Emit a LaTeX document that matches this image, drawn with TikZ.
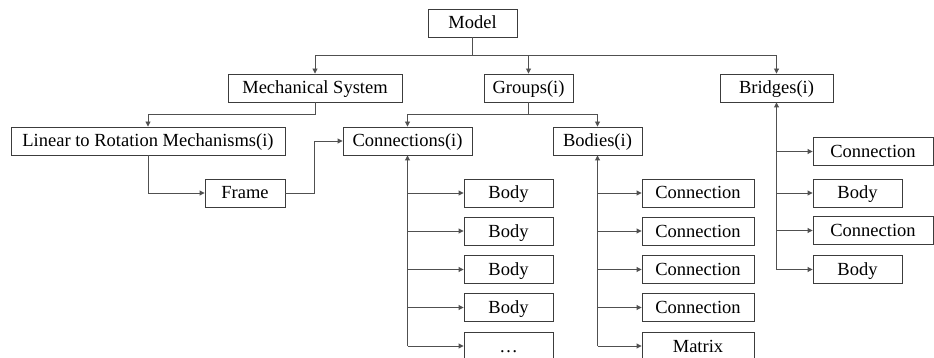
\documentclass[tikz,border=0pt]{standalone}
\usepackage{fontspec}
\setmainfont{Liberation Serif}
\usetikzlibrary{arrows.meta}
\definecolor{boxline}{HTML}{3C3C3C}
\definecolor{conline}{HTML}{505050}
\tikzset{
  box/.style={draw=boxline, line width=0.9pt, minimum height=28pt, inner sep=0pt,
    text height=13pt, text depth=1pt, font=\fontsize{18.5}{20}\selectfont},
  arr/.style={draw=conline, line width=0.9pt, -{Triangle[length=5pt,width=5pt]}},
  ln/.style={draw=conline, line width=0.9pt}
}
\begin{document}
\begin{tikzpicture}[x=1pt,y=-1pt]
\useasboundingbox (0,0) rectangle (934,358);
% top levels
\node[box, minimum width=89pt]  (model)   at (472.5,23)  {Model};
\node[box, minimum width=174pt] (mech)    at (315,88)    {Mechanical System};
\node[box, minimum width=89pt]  (groups)  at (528.5,88)  {Groups(i)};
\node[box, minimum width=113pt] (bridges) at (776.5,88)  {Bridges(i)};
\node[box, minimum width=274pt] (linear)  at (148,141)   {Linear to Rotation Mechanisms(i)};
\node[box, minimum width=80pt]  (frame)   at (245,193)   {Frame};
\node[box, minimum width=129pt] (conns)   at (407.5,141) {Connections(i)};
\node[box, minimum width=89pt]  (bodies)  at (597.5,141) {Bodies(i)};
% children of Connections(i)
\node[box, minimum width=89pt] (cb1) at (508.5,193)   {Body};
\node[box, minimum width=89pt] (cb2) at (508.5,231)   {Body};
\node[box, minimum width=89pt] (cb3) at (508.5,269.5) {Body};
\node[box, minimum width=89pt] (cb4) at (508.5,307.5) {Body};
\node[box, minimum width=89pt] (cb5) at (508.5,346)   {…};
% children of Bodies(i)
\node[box, minimum width=112pt] (bc1) at (698,193)   {Connection};
\node[box, minimum width=112pt] (bc2) at (698,231)   {Connection};
\node[box, minimum width=112pt] (bc3) at (698,269.5) {Connection};
\node[box, minimum width=112pt] (bc4) at (698,307.5) {Connection};
\node[box, minimum width=112pt] (bc5) at (698,346)   {Matrix};
% children of Bridges(i)
\node[box, minimum width=120pt] (rc1) at (873,151.5)   {Connection};
\node[box, minimum width=89pt]  (rb1) at (857.5,193)   {Body};
\node[box, minimum width=120pt] (rc2) at (873,230.5)   {Connection};
\node[box, minimum width=89pt]  (rb2) at (857.5,269.5) {Body};
% Model connectors
\coordinate (mbus) at (472.5,55);
\draw[ln] (model.south) -- (mbus);
\draw[arr] (mbus) -| (mech.north);
\draw[arr] (mbus) -| (groups.north);
\draw[arr] (mbus) -| (bridges.north);
% Mechanical system
\draw[arr] (mech.south) -- ++(0,12) -| (linear.north);
\draw[arr] (linear.south) |- (frame.west);
\draw[arr] (frame.east) -- ++(29,0) |- (conns.west);
% Groups
\draw[arr] (groups.south) -- ++(0,12) -| (conns.north);
\draw[arr] (groups.south) -- ++(0,12) -| (bodies.north);
% Connections(i) tree
\draw[arr] (conns.south |- cb5.west) -- (conns.south);
\foreach \n in {cb1,cb2,cb3,cb4,cb5}{\draw[arr] (conns.south |- \n.west) -- (\n.west);}
% Bodies(i) tree
\draw[arr] (bodies.south |- bc5.west) -- (bodies.south);
\foreach \n in {bc1,bc2,bc3,bc4,bc5}{\draw[arr] (bodies.south |- \n.west) -- (\n.west);}
% Bridges(i) tree
\draw[arr] (bridges.south |- rb2.west) -- (bridges.south);
\foreach \n in {rc1,rb1,rc2,rb2}{\draw[arr] (bridges.south |- \n.west) -- (\n.west);}
\end{tikzpicture}
\end{document}
